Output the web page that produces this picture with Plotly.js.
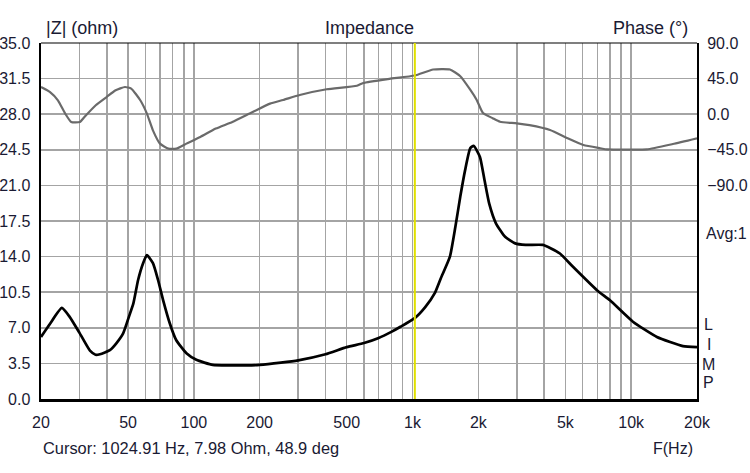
<!DOCTYPE html>
<html>
<head>
<meta charset="utf-8">
<script src="https://cdn.plot.ly/plotly-3.0.1.min.js"></script>
<style>
html,body{margin:0;padding:0;background:#fff;}
#chart{width:750px;height:473px;}
</style>
</head>
<body>
<div id="chart"></div>
<script>
// Impedance magnitude (ohm) vs frequency (Hz)
const impFreq = [20, 22, 24.9, 27, 30, 33.5, 35.5, 37.2, 41.3, 44.3, 47.5, 50.5, 52.9, 55.6, 58.6, 61.0, 65.0, 68.6, 72.4, 77.6, 83.0, 92.5, 102.7, 122, 146, 175, 200, 250, 300, 400, 500, 600, 700, 800, 881, 1024, 1141, 1264, 1349, 1483, 1570, 1654, 1740, 1836, 1904, 2034, 2135, 2243, 2404, 2651, 2949, 3290, 3946, 4300, 4722, 5419, 6975, 8000, 10186, 13116, 17250, 20000];
const impOhm  = [6.1, 7.4, 8.95, 8.1, 6.5, 4.75, 4.35, 4.4, 4.8, 5.5, 6.45, 8.1, 9.4, 11.7, 13.35, 14.15, 13.35, 11.7, 9.7, 7.45, 5.8, 4.5, 3.85, 3.35, 3.3, 3.3, 3.35, 3.57, 3.8, 4.4, 5.1, 5.5, 6.0, 6.6, 7.1, 7.95, 9.0, 10.4, 11.9, 14.0, 16.9, 19.9, 22.5, 24.65, 24.9, 23.8, 21.5, 19.2, 17.3, 15.95, 15.3, 15.15, 15.15, 14.8, 14.3, 13.0, 10.7, 9.7, 7.6, 6.1, 5.2, 5.1];

// Phase (deg) vs frequency (Hz)
const phFreq = [20, 22, 23.9, 25.8, 27.5, 30.1, 31.6, 35.6, 39.9, 43.9, 48.4, 51.7, 56.9, 61.0, 65.0, 70.0, 76.5, 83.2, 92.5, 107, 126, 150, 180, 223, 256, 305, 405, 557, 595, 784, 1024, 1243, 1483, 1654, 1836, 1966, 2100, 2325, 2513, 3000, 3429, 4256, 5122, 6047, 7219, 7760, 9500, 11790, 15500, 20000];
const phDeg  = [34.4, 28, 17.6, 0.8, -9.9, -9.9, -3.5, 11.3, 21.7, 30.2, 34.4, 32.4, 17.6, 0.8, -20.4, -37.2, -43.5, -43.5, -37.2, -28.8, -18.2, -9.9, 0.8, 13.4, 18, 24.3, 31.5, 36, 39.5, 44.7, 48.9, 56.5, 56.5, 48, 31, 18, 1.5, -5, -9.6, -11.5, -13.8, -20, -30.5, -39, -43, -44.5, -44.8, -44.5, -37.7, -30.5];

// Axis grid/ticks
const gridFreqs = [20, 30, 40, 50, 60, 70, 80, 90, 100, 200, 300, 400, 500, 600, 700, 800, 900, 1000, 2000, 3000, 4000, 5000, 6000, 7000, 8000, 9000, 10000, 20000];
const gridLabels = ["20", "", "", "50", "", "", "", "", "100", "200", "", "", "500", "", "", "", "", "1k", "2k", "", "", "5k", "", "", "", "", "10k", "20k"];
const zTicks = [0, 3.5, 7, 10.5, 14, 17.5, 21, 24.5, 28, 31.5, 35];
const phaseTicks = [90, 45, 0, -45, -90];
const cursorHz = 1024.91;
const cursorText = "Cursor: 1024.91 Hz, 7.98 Ohm, 48.9 deg";
const sideLetters = ["L", "I", "M", "P"];

const txt = "#1a1a33";
const FONT = "Liberation Sans, Arial, sans-serif";

const traces = [
  {x: impFreq, y: impOhm, type: "scatter", mode: "lines", line: {color: "#000", width: 2.7, shape: "spline", smoothing: 0.5}, hoverinfo: "skip"},
  {x: phFreq, y: phDeg, type: "scatter", mode: "lines", yaxis: "y2", line: {color: "#6a6a6a", width: 2.2, shape: "spline", smoothing: 0.5}, hoverinfo: "skip"}
];

const annotations = [
  {text: "|Z| (ohm)", xref: "paper", yref: "paper", x: 0.005, y: 1.042, xanchor: "left", yanchor: "middle", showarrow: false, font: {family: FONT, size: 18, color: txt}},
  {text: "Impedance", xref: "paper", yref: "paper", x: 0.5, y: 1.042, xanchor: "center", yanchor: "middle", showarrow: false, font: {family: FONT, size: 18, color: txt}},
  {text: "Phase (°)", xref: "paper", yref: "paper", x: 0.99, y: 1.042, xanchor: "right", yanchor: "middle", showarrow: false, font: {family: FONT, size: 18, color: txt}},
  {text: cursorText, xref: "paper", yref: "paper", x: 0.0, y: -0.138, xanchor: "left", yanchor: "middle", showarrow: false, font: {family: FONT, size: 16.4, color: txt}},
  {text: "F(Hz)", xref: "paper", yref: "paper", x: 0.997, y: -0.14, xanchor: "right", yanchor: "middle", showarrow: false, font: {family: FONT, size: 16, color: txt}},
  {text: "Avg:1", xref: "paper", yref: "paper", x: 1.011, y: 0.466, xanchor: "left", yanchor: "middle", showarrow: false, font: {family: FONT, size: 16, color: txt}}
];
const letterY = [0.208, 0.152, 0.098, 0.045];
sideLetters.forEach((l, i) => annotations.push({text: l, xref: "paper", yref: "paper", x: 1.018, y: letterY[i], xanchor: "center", yanchor: "middle", showarrow: false, font: {family: FONT, size: 16, color: txt}}));

const layout = {
  width: 750, height: 473,
  margin: {l: 41, r: 53, t: 43, b: 74},
  paper_bgcolor: "#fff", plot_bgcolor: "#fff",
  showlegend: false,
  font: {family: FONT, size: 16, color: txt},
  xaxis: {
    type: "log", range: [Math.log10(20), Math.log10(20000)],
    tickmode: "array", tickvals: gridFreqs, ticktext: gridLabels,
    showgrid: true, gridcolor: "#a4a4a4", gridwidth: 1.5,
    showline: true, linecolor: "#000", linewidth: 2.5,
    ticks: "", ticklabelstandoff: 7, zeroline: false,
    tickfont: {family: FONT, size: 16, color: txt}
  },
  yaxis: {
    range: [0, 35], tickmode: "array", tickvals: zTicks, tickformat: ".1f",
    showgrid: true, gridcolor: "#a4a4a4", gridwidth: 1.5,
    showline: true, linecolor: "#000", linewidth: 2.5,
    ticks: "", ticklabelstandoff: 5, zeroline: false,
    tickfont: {family: FONT, size: 16, color: txt}
  },
  yaxis2: {
    overlaying: "y", side: "right", range: [-360, 90],
    tickmode: "array", tickvals: phaseTicks, tickformat: ".1f",
    showgrid: false, showline: true, linecolor: "#000", linewidth: 2,
    ticks: "", ticklabelstandoff: 5, zeroline: false,
    tickfont: {family: FONT, size: 16, color: txt}
  },
  shapes: [
    {type: "line", xref: "paper", yref: "paper", x0: 0, x1: 1, y0: 1, y1: 1, line: {color: "#000", width: 1.2}},
    {type: "line", xref: "x", yref: "paper", x0: cursorHz, x1: cursorHz, y0: 0, y1: 1, line: {color: "#e0e000", width: 2}}
  ],
  annotations: annotations
};

Plotly.newPlot("chart", traces, layout, {displayModeBar: false, staticPlot: true});
</script>
</body>
</html>
